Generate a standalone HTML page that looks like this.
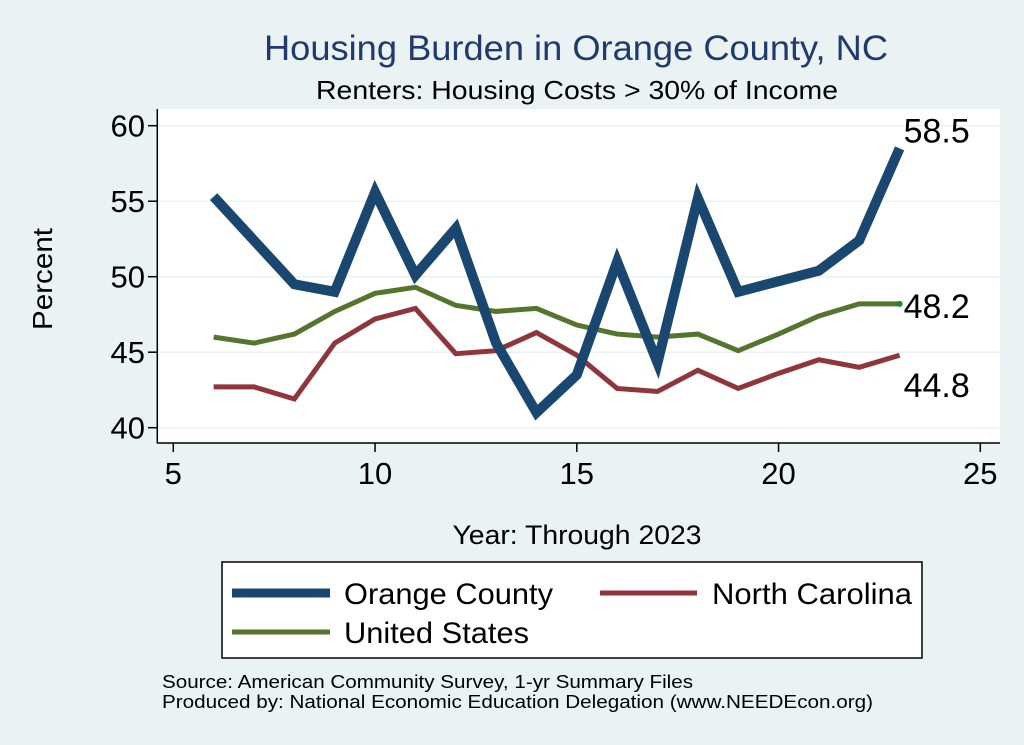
<!DOCTYPE html>
<html><head><meta charset="utf-8"><style>
body{margin:0;background:#eaf2f3;}
svg{display:block;font-family:"Liberation Sans",Arial,sans-serif;}
</style></head><body>
<svg id="chart" width="1024" height="745" viewBox="0 0 1024 745">
<rect x="0" y="0" width="1024" height="745" fill="#eaf2f3"/>
<text x="576" y="60" text-anchor="middle" font-size="35" fill="#1e3b6c" textLength="624" lengthAdjust="spacingAndGlyphs">Housing Burden in Orange County, NC</text>
<text x="577" y="99" text-anchor="middle" font-size="26" fill="#000" textLength="522" lengthAdjust="spacingAndGlyphs">Renters: Housing Costs &gt; 30% of Income</text>
<rect x="157" y="109" width="843" height="334" fill="#fff"/>
<g id="grid"></g>
<g id="axes"></g>
<g id="series"></g>
<text x="52" y="279" text-anchor="middle" font-size="28" transform="rotate(-90 52 279)" textLength="102" lengthAdjust="spacingAndGlyphs">Percent</text>
<text x="577" y="544" text-anchor="middle" font-size="27" textLength="249" lengthAdjust="spacingAndGlyphs">Year: Through 2023</text>
<g>
<rect x="222" y="562" width="700" height="96" fill="#fff" stroke="#000" stroke-width="1.5"/>
<g><line x1="232" y1="593" x2="330" y2="593" stroke="#1a476f" stroke-width="9"/><text x="344" y="604" font-size="30" textLength="209" lengthAdjust="spacingAndGlyphs">Orange County</text></g>
<g><line x1="600" y1="593" x2="697" y2="593" stroke="#90353b" stroke-width="5"/><text x="712" y="604" font-size="30" textLength="200" lengthAdjust="spacingAndGlyphs">North Carolina</text></g>
<g><line x1="232" y1="632" x2="330" y2="632" stroke="#55752f" stroke-width="5"/><text x="344" y="643" font-size="30" textLength="185" lengthAdjust="spacingAndGlyphs">United States</text></g>
</g>
<text x="162" y="688" font-size="18" textLength="531" lengthAdjust="spacingAndGlyphs">Source: American Community Survey, 1-yr Summary Files</text>
<text x="162" y="708" font-size="18" textLength="711" lengthAdjust="spacingAndGlyphs">Produced by: National Economic Education Delegation (www.NEEDEcon.org)</text>
</svg>
<script>
const years=[6,7,8,9,10,11,12,13,14,15,16,17,18,19,20,21,22,23];
const orangeCounty=[55.3,52.4,49.5,49.0,55.6,50.1,53.2,45.6,41.0,43.5,51.0,44.3,55.2,49.0,49.7,50.4,52.4,58.5];
const northCarolina=[42.7,42.7,41.9,45.6,47.2,47.9,44.9,45.1,46.3,44.8,42.6,42.4,43.8,42.6,43.6,44.5,44.0,44.8];
const unitedStates=[46.0,45.6,46.2,47.7,48.9,49.3,48.1,47.7,47.9,46.8,46.2,46.0,46.2,45.1,46.2,47.4,48.2,48.2];
const xTicks=[5,10,15,20,25];
const yTicks=[40,45,50,55,60];
const endLabels=["58.5","48.2","44.8"];
const NS="http://www.w3.org/2000/svg";
function xs(v){return 173.3+(v-5)*40.35;}
function ys(v){return 427.7-(v-40)*15.1;}
function mk(t,a,p){const e=document.createElementNS(NS,t);for(const k in a)e.setAttribute(k,a[k]);p.appendChild(e);return e;}
const grid=document.getElementById('grid'),axes=document.getElementById('axes'),ser=document.getElementById('series');
yTicks.forEach(v=>{
 const g=mk('line',{x1:158,x2:1000,y1:ys(v),y2:ys(v),stroke:'#eaf2f3','stroke-width':1.5},grid);
 
 
 mk('line',{x1:148,x2:157,y1:ys(v),y2:ys(v),stroke:'#000','stroke-width':1.5},axes);
 const t=mk('text',{x:145,y:ys(v)+11,'text-anchor':'end','font-size':31},axes);
 t.textContent=v;
 
 
});
xTicks.forEach(v=>{
 mk('line',{x1:xs(v),x2:xs(v),y1:443,y2:452,stroke:'#000','stroke-width':1.5},axes);
 const t=mk('text',{x:xs(v),y:484,'text-anchor':'middle','font-size':31},axes);
 t.textContent=v;
 
 
});
mk('line',{x1:157.3,x2:157.3,y1:109,y2:443.5,stroke:'#000','stroke-width':1.5},axes);
mk('line',{x1:157,x2:1000,y1:443,y2:443,stroke:'#000','stroke-width':1.5},axes);
function line(vals,color,w,name){
 const p=mk('polyline',{points:vals.map((v,i)=>xs(years[i])+','+ys(v)).join(' '),fill:'none',stroke:color,'stroke-width':w,'stroke-linejoin':'miter'},ser);
 
 
}
line(unitedStates,'#55752f',5,'line-united-states');
line(northCarolina,'#90353b',5,'line-north-carolina');
line(orangeCounty,'#1a476f',10,'line-orange-county');
const last=years.length-1;
[[orangeCounty,endLabels[0],-6],[unitedStates,endLabels[1],14],[northCarolina,endLabels[2],42]].forEach((s,i)=>{
 const t=mk('text',{x:xs(years[last])+4,y:ys(s[0][last])+s[2],'font-size':34},ser);
 t.textContent=s[1];
 
 
});
mk('circle',{cx:xs(years[last]),cy:ys(unitedStates[last]),r:3,fill:'#1a8a2a'},ser);
</script>
</body></html>
